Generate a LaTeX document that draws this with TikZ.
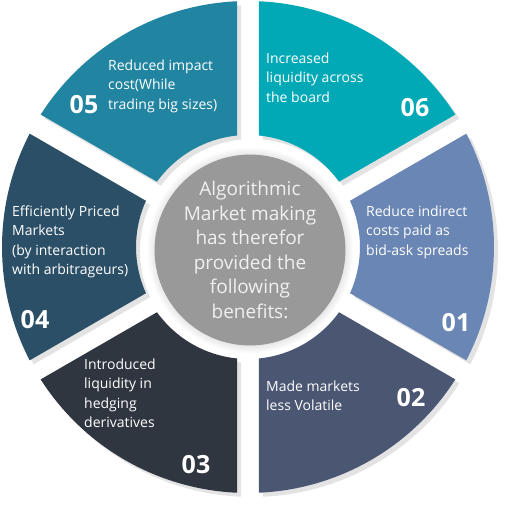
\documentclass[tikz,border=0pt]{standalone}
\usepackage{fontspec}
\setmainfont{Open Sans}
\usepackage{tikz}
\usetikzlibrary{shadows}
\definecolor{seg01}{RGB}{106, 134, 180}
\definecolor{seg02}{RGB}{74, 86, 114}
\definecolor{seg03}{RGB}{47, 54, 64}
\definecolor{seg04}{RGB}{43, 79, 102}
\definecolor{seg05}{RGB}{33, 132, 160}
\definecolor{seg06}{RGB}{0, 169, 181}
\definecolor{hubgray}{RGB}{153, 153, 153}

\begin{document}
\begin{tikzpicture}[x=1pt, y=1pt,
  txt/.style={text=white, align=left, anchor=west, inner sep=0,
    font=\fontsize{14}{19.5}\selectfont},
  num/.style={text=white, inner sep=0, font=\fontsize{25}{25}\selectfont\bfseries}]

  \pgfmathsetmacro{\ro}{246};
  \pgfmathsetmacro{\ri}{112};
  \pgfmathsetmacro{\dout}{asin(11/\ro)};
  \pgfmathsetmacro{\din}{asin(11/\ri)};

  \useasboundingbox[fill=white] (-248, -262) rectangle (264, 247);

  % six ring segments, 60 degrees each
  \foreach \a/\c in {330/seg01, 270/seg02, 210/seg03, 150/seg04, 90/seg05, 30/seg06} {
    \fill[\c, drop shadow={shadow xshift=4pt, shadow yshift=-4pt, opacity=0.22}]
      (\a+\dout:\ro) arc[start angle=\a+\dout, end angle=\a+60-\dout, radius=\ro]
      -- (\a+60-\din:\ri) arc[start angle=\a+60-\din, end angle=\a+\din, radius=\ri]
      -- cycle;
  }

  \node[circle, fill=hubgray, minimum size=188pt, inner sep=0, align=center,
    text=white!94!black, font=\fontsize{19}{24.5}\selectfont,
    circular drop shadow={shadow scale=1.08, shadow xshift=0pt, shadow yshift=0pt, opacity=0.35}]
    (hub) at (2, -3) {Algorithmic\\Market making\\has therefor\\provided the\\following\\benefits:};

  \node[txt] (t01) at (118, 15) {Reduce indirect\\costs paid as\\bid-ask spreads};
  \node[txt] (t02) at (18, -148.5) {Made markets\\less Volatile};
  \node[txt] (t03) at (-164, -146) {Introduced\\liquidity in\\hedging\\derivatives};
  \node[txt] (t04) at (-236, 5) {Efficiently Priced\\Markets\\(by interaction\\with arbitrageurs)};
  \node[txt] (t05) at (-140, 161) {Reduced impact\\cost(While\\trading big sizes)};
  \node[txt] (t06) at (18, 169.5) {Increased\\liquidity across\\the board};

  \node[num] (n01) at (208, -76) {01};
  \node[num] (n02) at (163, -151) {02};
  \node[num] (n03) at (-52, -218) {03};
  \node[num] (n04) at (-213, -73) {04};
  \node[num] (n05) at (-164, 142) {05};
  \node[num] (n06) at (167, 139) {06};

\end{tikzpicture}
\end{document}
